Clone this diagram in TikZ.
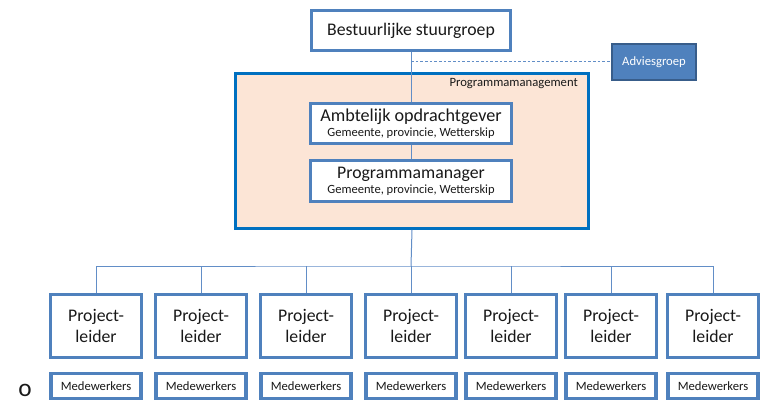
\documentclass[tikz,border=0pt]{standalone}
\usepackage{fontspec}
\setmainfont{Carlito}
\usepackage{tikz}
\usetikzlibrary{positioning}

\definecolor{boxblue}{RGB}{79,129,189}
\definecolor{pmblue}{RGB}{0,112,192}
\definecolor{pmfill}{RGB}{252,229,214}
\definecolor{advborder}{RGB}{56,93,138}
\definecolor{linkblue}{RGB}{98,142,199}
\definecolor{txt}{RGB}{25,25,25}

\tikzset{
  orgbox/.style={draw=boxblue, line width=2.3pt, fill=white, inner sep=0pt, align=center, text=txt},
  link/.style={draw=linkblue, line width=0.75pt},
  bigtxt/.style={font=\fontsize{13.3}{15.5}\selectfont},
  smalltxt/.style={font=\fontsize{9.5}{11}\selectfont},
}

\begin{document}
\begin{tikzpicture}[x=0.75pt,y=0.75pt,yscale=-1,xscale=1]
\useasboundingbox (0,0) rectangle (760,403);

% Programmamanagement frame
\node (pm) [draw=pmblue, line width=2.2pt, fill=pmfill, minimum width=265pt, minimum height=116pt, inner sep=0pt] at (412,151) {};
\node (pmlabel) [anchor=east, inner sep=0pt, text=txt, smalltxt] at (578,84) {Programmamanagement};

% top of the chart
\node (stuur) [orgbox, bigtxt, minimum width=149pt, minimum height=30pt] at (411,30.5) {Bestuurlijke stuurgroep};
\node (advies) [draw=advborder, line width=1.2pt, fill=boxblue, text=white, smalltxt, minimum width=63pt, minimum height=27pt, inner sep=0pt] at (654,62) {Adviesgroep};

\node (ambt) [orgbox, minimum width=151pt, minimum height=30pt] at (411,123.5) {{\fontsize{13.6}{14}\selectfont Ambtelijk opdrachtgever}\\[-1pt]{\fontsize{9.4}{11}\selectfont Gemeente, provincie, Wetterskip}};
\node (pman) [orgbox, minimum width=151pt, minimum height=31pt] at (411,181) {{\fontsize{13.3}{14}\selectfont Programmamanager}\\[-1pt]{\fontsize{9.4}{11}\selectfont Gemeente, provincie, Wetterskip}};

%Straight Lines
\coordinate (tap) at (411,62);
\coordinate (bus) at (411,266);
\draw [link] (stuur) -- (ambt);
\draw [link] (ambt) -- (pman);
\draw [link, dash pattern=on 2pt off 1.5pt] (tap) -- (advies.west);
\draw [link] (pm.south) -- (bus);

% project leaders and their staff
\foreach \i/\x in {1/96,2/201,3/306,4/411,5/511,6/611,7/713}{
  \node (p\i) [orgbox, bigtxt, minimum width=68.5pt, minimum height=47pt] at (\x,326) {Project-\\leider};
  \node (m\i) [orgbox, smalltxt, minimum width=67.5pt, minimum height=19pt, below=9.5pt of p\i] {Medewerkers};
}
\draw [link] (p1.north) |- (bus) -| (p7.north);
\foreach \i in {2,...,6}
  \draw [link] (p\i.north) -- (p\i.north |- bus);

% Text Node
\node (bullet) [anchor=base, inner sep=0pt, text=txt, font=\fontsize{19}{22}\selectfont] at (25,396) {o};

\end{tikzpicture}
\end{document}
